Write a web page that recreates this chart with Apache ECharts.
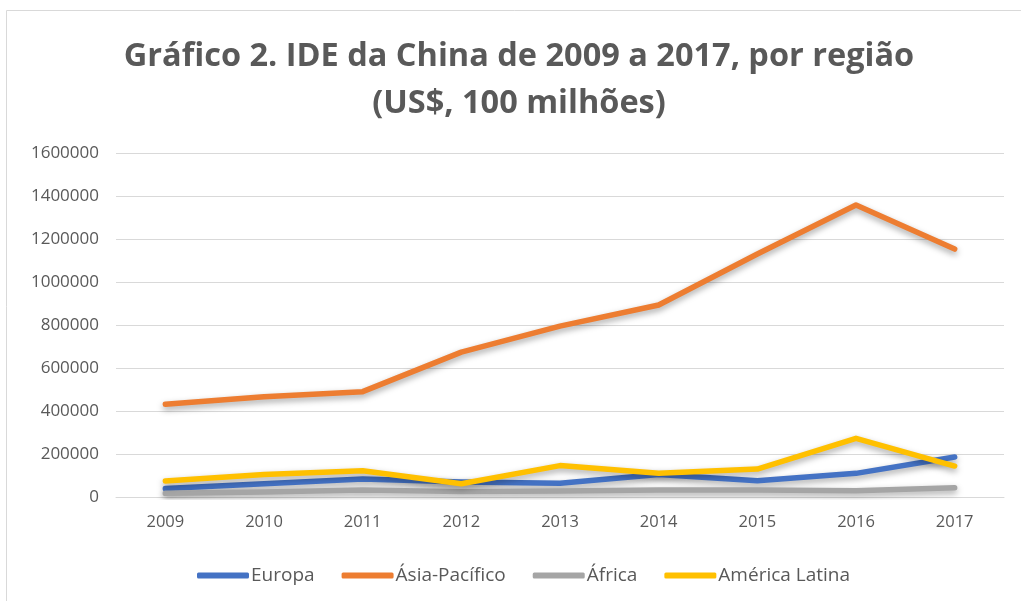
<!DOCTYPE html>
<html>
<head>
<meta charset="utf-8">
<script src="https://cdn.jsdelivr.net/npm/echarts@6/dist/echarts.min.js"></script>
<style>
  html, body { margin: 0; padding: 0; background: #fff; }
  #chart { width: 1021px; height: 601px; }
</style>
</head>
<body>
<div id="chart"></div>
<script>
// dados (US$, 100 milhões)
const years = ['2009', '2010', '2011', '2012', '2013', '2014', '2015', '2016', '2017']
const europa = [39000, 62000, 84000, 70000, 64000, 105000, 76000, 110000, 186000]
const asiaPacifico = [431000, 466000, 490000, 674000, 795000, 893000, 1130000, 1358000, 1153000]
const africa = [17000, 23000, 33000, 25000, 28000, 32000, 32000, 29000, 43000]
const americaLatina = [74000, 105000, 122000, 62000, 146000, 110000, 130000, 273000, 144000]

const chart = echarts.init(document.getElementById('chart'))

const textColor = '#595959'
const lineShadow = {
  shadowColor: 'rgba(0,0,0,0.35)',
  shadowBlur: 6,
  shadowOffsetY: 3
}

const mkSeries = (name, data, color) => ({
  name,
  type: 'line',
  data,
  symbol: 'none',
  color,
  lineStyle: Object.assign({ width: 5.5, color, cap: 'round', join: 'round' }, lineShadow),
  emphasis: { disabled: true }
})

const option = {
  animation: false,
  title: {
    text: 'Gráfico 2. IDE da China de 2009 a 2017, por região\n(US$, 100 milhões)',
    left: 514,
    textAlign: 'center',
    top: 28,
    textStyle: {
      fontFamily: 'Open Sans',
      fontWeight: 'bold',
      fontSize: 32.5,
      lineHeight: 47,
      color: textColor
    }
  },
  graphic: [{
    type: 'rect',
    shape: { x: 6.5, y: 10.5, width: 1100, height: 700 },
    style: { fill: 'none', stroke: '#d9d9d9', lineWidth: 1 },
    silent: true
  }],
  legend: {
    top: 561,
    left: 192,
    itemWidth: 52,
    itemHeight: 6,
    itemGap: 27,
    icon: 'roundRect',
    textStyle: { fontFamily: 'Open Sans', fontSize: 19, color: textColor, padding: [0, 0, 0, -3] }
  },
  grid: {
    left: 116,
    right: 17,
    top: 153,
    bottom: 104
  },
  xAxis: {
    type: 'category',
    data: years,
    boundaryGap: true,
    axisLine: { lineStyle: { color: '#d9d9d9', width: 1 } },
    axisTick: { show: false },
    axisLabel: { fontFamily: 'Open Sans', fontSize: 16.5, color: textColor, margin: 17 }
  },
  yAxis: {
    type: 'value',
    min: 0,
    max: 1600000,
    interval: 200000,
    axisLine: { show: false },
    axisTick: { show: false },
    splitLine: { lineStyle: { color: '#d9d9d9', width: 1 } },
    axisLabel: {
      fontFamily: 'Open Sans',
      fontSize: 17,
      color: textColor,
      margin: 17,
      formatter: v => String(v)
    }
  },
  series: [
    mkSeries('Europa', europa, '#4472c4'),
    mkSeries('Ásia-Pacífico', asiaPacifico, '#ed7d31'),
    mkSeries('África', africa, '#a5a5a5'),
    mkSeries('América Latina', americaLatina, '#ffc000')
  ]
}

chart.setOption(option)
</script>
</body>
</html>
